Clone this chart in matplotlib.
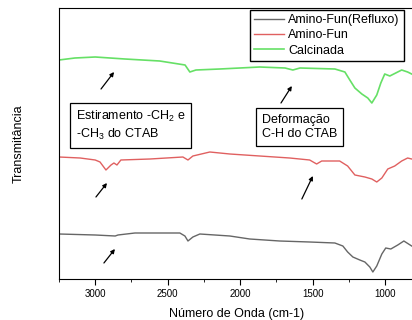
import numpy as np
import matplotlib
matplotlib.use('Agg')
import matplotlib.pyplot as plt
from matplotlib.ticker import MultipleLocator

plt.rcParams['font.family'] = ['Liberation Sans', 'DejaVu Sans']
plt.rcParams['mathtext.fontset'] = 'custom'
plt.rcParams['mathtext.rm'] = 'Liberation Sans'
plt.rcParams['mathtext.it'] = 'Liberation Sans'

# FTIR spectra (arbitrary transmittance units, offset)
wn_calc = [3250, 3140, 3000, 2795, 2555, 2380, 2347, 2305, 2140, 1865, 1690, 1636, 1587,
           1346, 1277, 1243, 1208, 1160, 1119, 1091, 1057, 1029, 1002, 967, 926, 885, 844, 816]
t_calc = [219, 221, 222, 220, 218, 214, 207, 209, 210, 212, 211, 209, 211,
          210, 207, 199, 191, 185, 181, 176, 184, 196, 205, 203, 206, 209, 207, 205]

wn_fun = [3250, 3104, 3000, 2967, 2926, 2891, 2871, 2850, 2823, 2622, 2395, 2360, 2326,
          2209, 2071, 1865, 1658, 1520, 1472, 1437, 1313, 1258, 1208, 1139, 1091, 1057,
          1022, 981, 933, 885, 844, 816]
t_fun = [122, 121, 119, 117, 109, 114, 116, 114, 119, 120, 122, 119, 123,
         127, 125, 123, 121, 119, 115, 118, 118, 113, 104, 102, 100, 97,
         101, 110, 113, 118, 121, 120]

wn_ref = [3250, 3000, 2862, 2843, 2726, 2416, 2381, 2360, 2326, 2278, 2071, 1934, 1727,
          1520, 1346, 1291, 1258, 1222, 1174, 1139, 1105, 1084, 1057, 1022, 995, 960,
          912, 870, 816]
t_ref = [45, 44, 43, 44, 46, 46, 43, 38, 42, 45, 43, 40, 38,
         37, 36, 33, 27, 22, 19, 17, 12, 7, 13, 25, 31, 30,
         34, 38, 33]

# arrows: (tail, head)
arrows = [((2960, 190), (2870, 207)),
          ((1718, 176), (1643, 193)),
          ((2995, 82), (2919, 96)),
          ((1574, 80), (1498, 103)),
          ((2940, 16), (2864, 30))]

fig = plt.figure(figsize=(4.12, 3.2), dpi=100)
ax = fig.add_axes([59/412, 41/320, 355/412, 271/320])

ax.plot(wn_ref, t_ref, color='#666666', lw=1.0, label='Amino-Fun(Refluxo)')
ax.plot(wn_fun, t_fun, color='#e06060', lw=1.0, label='Amino-Fun')
ax.plot(wn_calc, t_calc, color='#66e066', lw=1.2, label='Calcinada')

for tail, head in arrows:
    ax.annotate('', xy=head, xytext=tail,
                arrowprops=dict(arrowstyle='-|>', color='black', lw=0.9,
                                mutation_scale=6, shrinkA=0, shrinkB=0))

box = dict(boxstyle='square,pad=0.45', fc='white', ec='black', lw=0.9)
ax.text(3132, 153.5, 'Estiramento -CH$_2$ e\n-CH$_3$ do CTAB', fontsize=9,
        ha='left', va='center', bbox=box, linespacing=1.3)
ax.text(1850, 152, 'Deformação\nC-H do CTAB', fontsize=9,
        ha='left', va='center', bbox=box, linespacing=1.3)

ax.set_xlim(3250, 800)
ax.set_ylim(0, 271)
ax.xaxis.set_major_locator(MultipleLocator(500))
ax.xaxis.set_minor_locator(MultipleLocator(250))
ax.tick_params(axis='x', which='major', labelsize=7, length=4, direction='out')
ax.tick_params(axis='x', which='minor', length=2.5, direction='out')
ax.set_yticks([])
ax.spines['right'].set_visible(False)

ax.set_xlabel('Número de Onda (cm-1)', fontsize=9, labelpad=6)
ax.set_ylabel('Transmitância', fontsize=9, labelpad=25)

ax.legend(loc='upper left', bbox_to_anchor=((250-59)/355, (279-10)/271),
          borderaxespad=0, fontsize=9, frameon=True, fancybox=False,
          edgecolor='black', framealpha=1, handlelength=2.4,
          handletextpad=0.3, labelspacing=0.25, borderpad=0.35)

fig.savefig('out.png', dpi=100)
